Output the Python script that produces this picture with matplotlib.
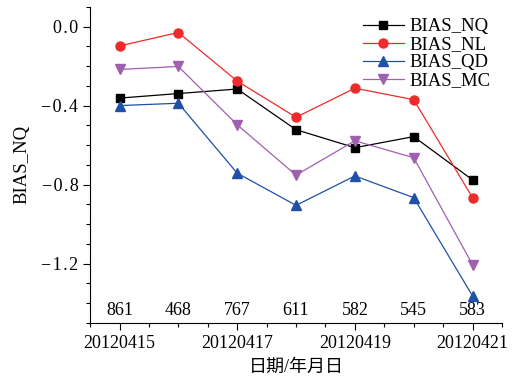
import numpy as np
import matplotlib.pyplot as plt
from matplotlib.ticker import MultipleLocator, FixedLocator

plt.rcParams['font.family'] = ['Liberation Serif', 'Noto Sans CJK SC']

# --- data ---
dates = ['20120415', '20120416', '20120417', '20120418', '20120419', '20120420', '20120421']
counts = [861, 468, 767, 611, 582, 545, 583]
bias_nq = [-0.362, -0.339, -0.316, -0.522, -0.613, -0.557, -0.776]
bias_nl = [-0.098, -0.030, -0.276, -0.459, -0.312, -0.370, -0.866]
bias_qd = [-0.400, -0.388, -0.742, -0.905, -0.756, -0.866, -1.363]
bias_mc = [-0.217, -0.202, -0.497, -0.752, -0.578, -0.664, -1.205]

x = np.arange(len(dates))

fig = plt.figure(figsize=(5.18, 3.79), dpi=100)
ax = fig.add_axes([0.174, 0.148, 0.795, 0.834])

ax.plot(x, bias_nq, '-s', color='black', lw=0.9, ms=6, label='BIAS_NQ')
ax.plot(x, bias_nl, '-o', color='#ee2a2a', lw=0.9, ms=6.5, label='BIAS_NL')
ax.plot(x, bias_qd, '-^', color='#2050a8', lw=0.9, ms=7, label='BIAS_QD')
ax.plot(x, bias_mc, '-v', color='#a060b0', lw=0.9, ms=7, label='BIAS_MC')

# sample counts above the axis
for xi, c in zip(x, counts):
    ax.text(xi, -1.5 + 0.022, str(c), ha='center', va='bottom', fontsize=13)


def yfmt(v, pos):
    s = f'{v:.1f}'.replace('-', '\u2212\u200a')
    return s.replace('.', '\u200a.\u200a')


ax.set_xlim(-0.5, 6.5)
ax.set_ylim(-1.5, 0.1)
ax.set_xticks(x[::2])
ax.set_xticklabels(dates[::2])
ax.xaxis.set_minor_locator(FixedLocator(np.arange(-0.5, 6.6, 0.5)))
ax.yaxis.set_major_locator(MultipleLocator(0.4))
ax.yaxis.set_minor_locator(MultipleLocator(0.1))
ax.yaxis.set_major_formatter(plt.FuncFormatter(yfmt))

ax.spines['top'].set_visible(False)
ax.spines['right'].set_visible(False)
ax.tick_params(which='major', direction='out', length=5, width=0.8, labelsize=13)
ax.tick_params(which='minor', direction='out', length=3, width=0.8)

ax.set_ylabel('BIAS_NQ', fontsize=13.5, labelpad=8)
ax.set_xlabel('日期/年月日', fontsize=13, labelpad=5)

ax.legend(loc='upper right', bbox_to_anchor=(1.0, 1.0), frameon=False, fontsize=13.5,
          handlelength=2.2, labelspacing=0.05, borderaxespad=0.2, handletextpad=0.3)

fig.savefig('out.png', dpi=100)
